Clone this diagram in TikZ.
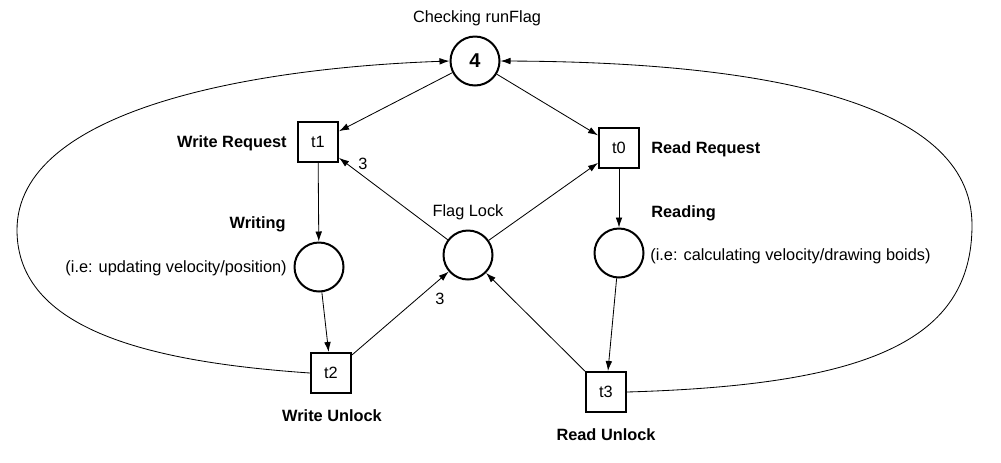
\documentclass[tikz,border=0pt]{standalone}
\usepackage{fontspec}
\setmainfont{Liberation Sans}
\usetikzlibrary{arrows.meta}

\tikzset{
  place/.style={circle, draw, line width=1.2pt, minimum size=29.4pt, inner sep=0pt},
  trans/.style={rectangle, draw, line width=1.2pt, minimum size=24pt, inner sep=0pt},
  txt/.style={inner sep=0pt},
  lbl/.style={txt, font=\fontsize{9.8}{12}\selectfont\bfseries},
  flow/.style={-{Latex[length=6pt,width=4pt]}, line width=0.5pt},
}

\begin{document}
\begin{tikzpicture}[x=0.6pt, y=-0.6pt, font=\fontsize{9.8}{12}\selectfont]
  \useasboundingbox (0,0) rectangle (1001,462);

  % places and transitions
  \node[place] (run) at (475,61) {\fontsize{12}{14}\selectfont\bfseries 4};
  \node[trans] (t1) at (318,142) {t1};
  \node[trans] (t0) at (619,148) {t0};
  \node[place] (wr) at (319,267) {};
  \node[place] (lock) at (468,255) {};
  \node[place] (rd) at (619,253) {};
  \node[trans] (t2) at (331,373) {t2};
  \node[trans] (t3) at (606,392) {t3};

  % labels
  \node[txt] (runl) at (477,18) {Checking runFlag};
  \node[lbl, anchor=east] (wreq) at (287,143) {Write Request};
  \node[lbl, anchor=east] (wing) at (286,224) {Writing};
  \node[txt, anchor=east] (wnote) at (287,268) {(i.e: updating velocity/position)};
  \node[lbl] (wunl) at (332,416) {Write Unlock};
  \node[txt] (lockl) at (468,212) {Flag Lock};
  \node[lbl, anchor=west] (rreq) at (651,149) {Read Request};
  \node[lbl, anchor=west] (ring) at (651,213) {Reading};
  \node[txt, anchor=west] (rnote) at (650,256) {(i.e: calculating velocity/drawing boids)};
  \node[lbl] (runl) at (606,435) {Read Unlock};
  \node[txt] (w1) at (363,164) {3};
  \node[txt] (w2) at (440,299) {3};

  % arcs
  \draw[flow] (run) -- (t1);
  \draw[flow] (run) -- (t0);
  \draw[flow] (t1) -- (wr);
  \draw[flow] (wr) -- (t2);
  \draw[flow] (t2) -- (lock);
  \draw[flow] (lock) -- (t1);
  \draw[flow] (lock) -- (t0);
  \draw[flow] (t0) -- (rd);
  \draw[flow] (rd) -- (t3);
  \draw[flow] (t3) -- (lock);

  % back to runFlag
  \draw[flow] (t2.west) .. controls (150,362) and (17,330) .. (17,230)
      .. controls (17,110) and (250,68) .. (run.west);
  \draw[flow] (t3.east) .. controls (870,385) and (972,340) .. (972,225)
      .. controls (972,100) and (760,62) .. (run.east);
\end{tikzpicture}
\end{document}
